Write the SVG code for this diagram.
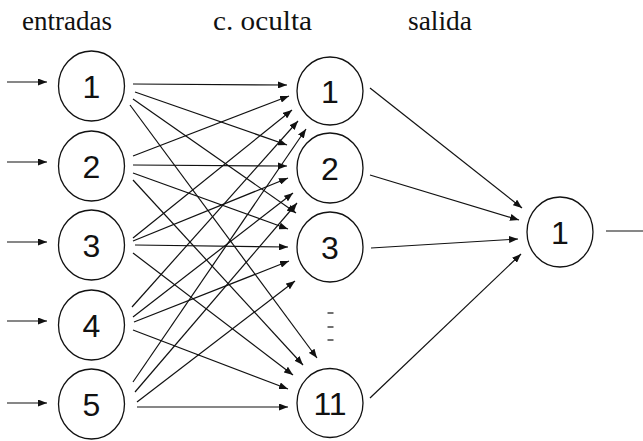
<svg xmlns="http://www.w3.org/2000/svg" width="643" height="441" viewBox="0 0 643 441">
<style>
.hdr{font-family:"Liberation Serif","Times New Roman",serif;font-size:28px;fill:#111}
.num{font-family:"Liberation Sans",Arial,sans-serif;font-size:32px;fill:#111;text-anchor:middle}
.node{fill:#fff;stroke:#111;stroke-width:1.3}
.edge{stroke:#111;stroke-width:1.2;fill:none;marker-end:url(#ah)}
.plain{stroke:#111;stroke-width:1.2;fill:none}
</style>
<defs>
<marker id="ah" markerUnits="userSpaceOnUse" markerWidth="9" markerHeight="7" refX="9" refY="3.5" orient="auto">
<path d="M0,0 L9,3.5 L0,7 z" fill="#111"/>
</marker>
</defs>
<rect width="643" height="441" fill="#fff"/>
<text class="hdr" x="22" y="30" textLength="90" lengthAdjust="spacingAndGlyphs">entradas</text>
<text class="hdr" x="213" y="30" textLength="99" lengthAdjust="spacingAndGlyphs">c. oculta</text>
<text class="hdr" x="408" y="30" textLength="64" lengthAdjust="spacingAndGlyphs">salida</text>
<g id="connectors">
<line class="edge" x1="7" y1="82" x2="47" y2="82"/>
<line class="edge" x1="7" y1="162" x2="47" y2="162"/>
<line class="edge" x1="7" y1="242" x2="47" y2="242"/>
<line class="edge" x1="7" y1="321" x2="47" y2="321"/>
<line class="edge" x1="7" y1="403" x2="47" y2="403"/>
<line class="edge" x1="133" y1="84" x2="287" y2="85"/>
<line class="edge" x1="135" y1="92" x2="287" y2="145"/>
<line class="edge" x1="133" y1="99" x2="296" y2="213"/>
<line class="edge" x1="130" y1="105" x2="317" y2="358"/>
<line class="edge" x1="133" y1="156" x2="289" y2="96"/>
<line class="edge" x1="133" y1="165" x2="287" y2="166"/>
<line class="edge" x1="133" y1="173" x2="288" y2="229"/>
<line class="edge" x1="133" y1="180" x2="303" y2="365"/>
<line class="edge" x1="133" y1="238" x2="292" y2="110"/>
<line class="edge" x1="133" y1="241" x2="288" y2="178"/>
<line class="edge" x1="135" y1="245" x2="288" y2="247"/>
<line class="edge" x1="133" y1="253" x2="293" y2="375"/>
<line class="edge" x1="132" y1="307" x2="298" y2="121"/>
<line class="edge" x1="133" y1="317" x2="293" y2="193"/>
<line class="edge" x1="134" y1="322" x2="289" y2="261"/>
<line class="edge" x1="133" y1="330" x2="288" y2="389"/>
<line class="edge" x1="133" y1="382" x2="306" y2="129"/>
<line class="edge" x1="135" y1="392" x2="297" y2="203"/>
<line class="edge" x1="137" y1="402" x2="295" y2="281"/>
<line class="edge" x1="137" y1="407" x2="288" y2="407"/>
<line class="edge" x1="370" y1="88" x2="522" y2="208"/>
<line class="edge" x1="370" y1="175" x2="519" y2="220"/>
<line class="edge" x1="371" y1="248" x2="518" y2="239"/>
<line class="edge" x1="370" y1="398" x2="521" y2="254"/>
<line class="plain" x1="606" y1="231" x2="643" y2="231"/>
</g>
<g id="in1"><ellipse class="node" cx="91.5" cy="86" rx="33" ry="35"/><text class="num" x="91.5" y="98">1</text></g>
<g id="in2"><ellipse class="node" cx="91.5" cy="166" rx="33" ry="35"/><text class="num" x="91.5" y="178">2</text></g>
<g id="in3"><ellipse class="node" cx="91.5" cy="245" rx="33" ry="35"/><text class="num" x="91.5" y="257">3</text></g>
<g id="in4"><ellipse class="node" cx="91.5" cy="325" rx="33" ry="35"/><text class="num" x="91.5" y="337">4</text></g>
<g id="in5"><ellipse class="node" cx="91.5" cy="404" rx="33" ry="35"/><text class="num" x="91.5" y="416">5</text></g>
<g id="h1"><ellipse class="node" cx="330" cy="91" rx="33" ry="34"/><text class="num" x="330" y="103">1</text></g>
<g id="h2"><ellipse class="node" cx="330" cy="168" rx="33" ry="35"/><text class="num" x="330" y="180">2</text></g>
<g id="h3"><ellipse class="node" cx="330" cy="247" rx="33" ry="35"/><text class="num" x="330" y="259">3</text></g>
<g id="dots">
<line class="plain" x1="327.5" y1="313" x2="333.5" y2="313"/>
<line class="plain" x1="327.5" y1="327" x2="333.5" y2="327"/>
<line class="plain" x1="327.5" y1="340" x2="333.5" y2="340"/>
</g>
<g id="h11"><ellipse class="node" cx="330" cy="403" rx="33" ry="34.5"/><text class="num" x="330" y="415">11</text></g>
<g id="out1"><ellipse class="node" cx="560" cy="232" rx="33" ry="35"/><text class="num" x="560" y="244">1</text></g>
</svg>
